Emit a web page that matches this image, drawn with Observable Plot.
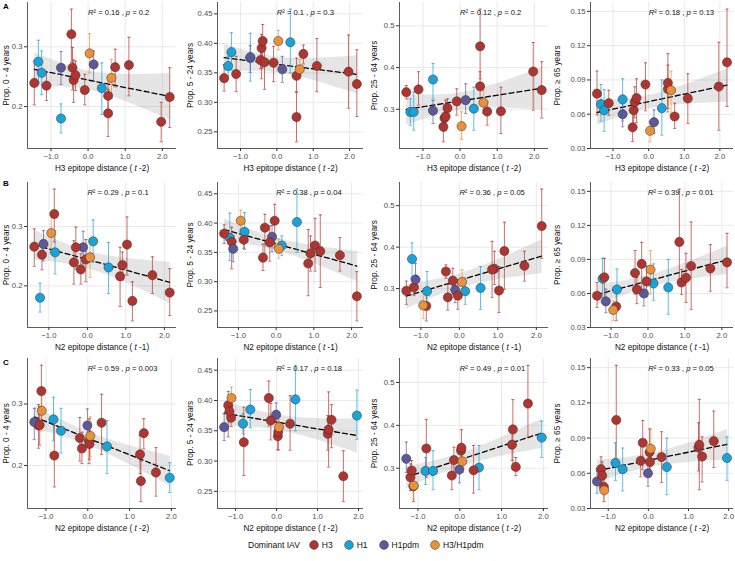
<!DOCTYPE html>
<html><head><meta charset="utf-8">
<script src="https://cdn.jsdelivr.net/npm/d3@7"></script>
<script src="https://cdn.jsdelivr.net/npm/@observablehq/plot@0.6"></script>
<style>
body{margin:0;background:#fff;}
#root{position:relative;width:735px;height:561px;font-family:"Liberation Sans",Arial,sans-serif;overflow:hidden;background:#fff;}
.panel{position:absolute;}
.rowlab{position:absolute;font-weight:bold;font-size:8px;color:#000;}
g[aria-label="x-axis tick label"] text, g[aria-label="y-axis tick label"] text{fill:#4d4d4d;font-size:7.7px;}
g[aria-label="x-axis label"] text, g[aria-label="y-axis label"] text{fill:#111;font-size:8.2px;}
g[aria-label="x-axis tick"] path, g[aria-label="y-axis tick"] path{stroke:#333;}
#legend{position:absolute;top:538px;left:248px;display:flex;align-items:center;font-size:8.5px;color:#111;height:14px;}
#legend svg{margin:0 3px 0 7px;}
</style></head>
<body><div id="root"></div>
<script>
// ---- data ----
const subtypes = ["H3", "H1", "H1pdm", "H3/H1pdm"];
const subtypeColors = ["#B0342F", "#1AA3D9", "#5C5899", "#E8913A"];
const seasonSubtype = ["H3","H1","H1","H3","H1","H1pdm","H3","H3","H3","H3","H3","H3/H1pdm","H1pdm","H1","H3","H3","H3/H1pdm","H3","H3","H3","H3"];

const xH3t2 = [-1.45,-1.34,-1.25,-1.12,-0.73,-0.73,-0.45,-0.42,-0.39,-0.34,-0.09,0.04,0.15,0.37,0.54,0.54,0.63,0.73,1.10,1.97,2.20];
const xN2t1 = [-0.35,0.15,-0.84,0.91,-1.23,-0.11,-0.86,-0.30,-0.04,-1.18,-0.17,-0.94,-1.14,0.55,1.69,2.14,0.07,-1.38,1.03,1.17,0.85];
const xN2t2 = [0.03,-0.82,-0.64,0.04,1.96,-0.01,-1.11,-1.18,-0.19,1.34,-0.14,-1.10,-1.28,0.46,1.25,1.63,0.06,-1.15,0.33,1.27,-0.80];

const p0_4   = [0.2395,0.275,0.2565,0.235,0.180,0.265,0.321,0.265,0.2445,0.2525,0.2277,0.289,0.2706,0.231,0.218,0.1887,0.248,0.266,0.2695,0.1746,0.216];
const p0_4Lo = [0.203,0.240,0.220,0.210,0.156,0.237,0.274,0.228,0.207,0.227,0.203,0.256,0.242,0.187,0.187,0.150,0.214,0.233,0.218,0.141,0.165];
const p0_4Hi = [0.276,0.311,0.293,0.257,0.2045,0.292,0.363,0.299,0.278,0.276,0.254,0.322,0.293,0.273,0.249,0.229,0.279,0.296,0.316,0.207,0.265];

const p5_24   = [0.341,0.3616,0.385,0.348,0.375,0.3765,0.3715,0.392,0.404,0.368,0.367,0.404,0.356,0.4018,0.345,0.275,0.356,0.382,0.3616,0.352,0.331];
const p5_24Lo = [0.319,0.345,0.355,0.318,0.336,0.351,0.357,0.340,0.358,0.322,0.335,0.389,0.334,0.350,0.318,0.233,0.340,0.365,0.318,0.290,0.276];
const p5_24Hi = [0.364,0.378,0.418,0.378,0.417,0.396,0.388,0.415,0.432,0.393,0.395,0.422,0.378,0.458,0.375,0.317,0.373,0.397,0.408,0.414,0.389];

const p25_64   = [0.341,0.2937,0.2937,0.3476,0.3714,0.2968,0.258,0.279,0.283,0.303,0.319,0.2595,0.322,0.3016,0.355,0.4508,0.316,0.2945,0.2952,0.3905,0.346];
const p25_64Lo = [0.325,0.262,0.250,0.310,0.325,0.266,0.222,0.248,0.250,0.283,0.286,0.228,0.290,0.250,0.318,0.373,0.290,0.262,0.242,0.298,0.279];
const p25_64Hi = [0.357,0.325,0.341,0.390,0.410,0.321,0.286,0.310,0.322,0.325,0.349,0.294,0.361,0.353,0.390,0.540,0.345,0.318,0.353,0.460,0.414];

const p65   = [0.078,0.0688,0.0635,0.0697,0.073,0.060,0.0485,0.0635,0.0706,0.0742,0.086,0.0455,0.053,0.0653,0.082,0.0874,0.081,0.058,0.0738,0.0842,0.1054];
const p65Lo = [0.0594,0.054,0.045,0.059,0.054,0.049,0.036,0.051,0.057,0.0526,0.063,0.0358,0.043,0.0417,0.062,0.065,0.0594,0.0476,0.052,0.046,0.0668];
const p65Hi = [0.0978,0.086,0.0815,0.081,0.091,0.071,0.061,0.074,0.084,0.091,0.105,0.0535,0.0638,0.090,0.103,0.113,0.0977,0.0697,0.0954,0.123,0.152];

const xTicks = [-1, 0, 1, 2];
const yTicks0_4 = [0.2, 0.3];
const yTicks5_24 = [0.25, 0.30, 0.35, 0.40, 0.45];
const yTicks25_64 = [0.3, 0.4, 0.5];
const yTicks65 = [0.03, 0.06, 0.09, 0.12, 0.15];

const yLabels = ["Prop. 0 - 4 years", "Prop. 5 - 24 years", "Prop. 25 - 64 years", "Prop. \u2265 65 years"];
const xLabelParts = [["H3 epitope distance ( ", "t", " -2)"], ["N2 epitope distance ( ", "t", " -1)"], ["N2 epitope distance ( ", "t", " -2)"]];
const rowLetters = ["A", "B", "C"];
const r2Labels = [["0.16","0.1","0.12","0.18"], ["0.29","0.38","0.36","0.39"], ["0.59","0.17","0.49","0.33"]];
const pLabels  = [["0.2","0.3","0.2","0.13"], ["0.1","0.04","0.05","0.01"], ["0.003","0.18","0.01","0.05"]];
const annotX = 0;

// ---- layout ----
const cols = [
  {left: 0,   width: 184, ml: 27, mr: 8, vals: p0_4,   lo: p0_4Lo,   hi: p0_4Hi,   ticks: yTicks0_4,   fmt: ".1f"},
  {left: 184, width: 184, ml: 33, mr: 5, vals: p5_24,  lo: p5_24Lo,  hi: p5_24Hi,  ticks: yTicks5_24,  fmt: ".2f"},
  {left: 368, width: 183, ml: 31, mr: 3, vals: p25_64, lo: p25_64Lo, hi: p25_64Hi, ticks: yTicks25_64, fmt: ".1f"},
  {left: 551, width: 184, ml: 39, mr: 2, vals: p65,    lo: p65Lo,    hi: p65Hi,    ticks: yTicks65,    fmt: ".2f"}
];
const rows = [
  {top: 0,   height: 173, mt: 2, mb: 25, xs: xH3t2},
  {top: 173, height: 179, mt: 9, mb: 25, xs: xN2t1},
  {top: 352, height: 181, mt: 6, mb: 25, xs: xN2t2}
];

const expand = ([a, b]) => { const d = (b - a) * 0.05; return [a - d, b + d]; };
const cap = {draw(ctx, size) { const w = Math.sqrt(size / Math.PI); ctx.moveTo(-w, 0); ctx.lineTo(w, 0); }};
const SVGNS = "http://www.w3.org/2000/svg";
function rich(el, parts, italic) {
  if (!el) return;
  while (el.firstChild) el.removeChild(el.firstChild);
  parts.forEach((s, i) => {
    const t = document.createElementNS(SVGNS, "tspan");
    t.textContent = s;
    if (italic.includes(i)) t.setAttribute("font-style", "italic");
    el.appendChild(t);
  });
}

const root = document.getElementById("root");
rows.forEach((row, ri) => {
  cols.forEach((col, ci) => {
    const data = seasonSubtype.map((t, i) => ({type: t, x: row.xs[i], y: col.vals[i], lo: col.lo[i], hi: col.hi[i]}));
    const xd = expand(d3.extent(row.xs));
    const yd = expand([d3.min(col.lo), d3.max(col.hi)]);
    const r2 = r2Labels[ri][ci], p = pLabels[ri][ci];
    const annText = `R\u00b2 = ${r2} , p = ${p}`;
    const svg = Plot.plot({
      width: col.width, height: row.height,
      marginLeft: col.ml, marginRight: col.mr, marginTop: row.mt, marginBottom: row.mb,
      style: {fontFamily: "'Liberation Sans', Arial, sans-serif", fontSize: "7.5px", background: "transparent"},
      x: {domain: xd, ticks: xTicks, tickSize: 3, tickPadding: 2, label: xLabelParts[ri].join(""), labelAnchor: "center", labelArrow: "none"},
      y: {domain: yd, ticks: col.ticks, tickFormat: d3.format(col.fmt), tickSize: 3, tickPadding: 2, label: yLabels[ci], labelAnchor: "center", labelArrow: "none"},
      color: {domain: subtypes, range: subtypeColors},
      marks: [
        Plot.gridX(xTicks, {stroke: "#e6e6e6", strokeOpacity: 1, strokeWidth: 0.9}),
        Plot.gridY(col.ticks, {stroke: "#e6e6e6", strokeOpacity: 1, strokeWidth: 0.9}),
        Plot.ruleX([xd[0]], {stroke: "#333", strokeWidth: 0.8}),
        Plot.ruleY([yd[0]], {stroke: "#333", strokeWidth: 0.8}),
        Plot.linearRegressionY(data, {x: "x", y: "y", stroke: "black", strokeWidth: 1.3, strokeDasharray: "5,3", fill: "#888", fillOpacity: 0.22, ci: 0.95}),
        Plot.ruleX(data, {x: "x", y1: "lo", y2: "hi", stroke: "type", strokeOpacity: 0.7, strokeWidth: 1}),
        Plot.dot(data, {x: "x", y: "lo", symbol: cap, r: 1.6, stroke: "type", strokeOpacity: 0.7, fill: "none", strokeWidth: 1}),
        Plot.dot(data, {x: "x", y: "hi", symbol: cap, r: 1.6, stroke: "type", strokeOpacity: 0.7, fill: "none", strokeWidth: 1}),
        Plot.dot(data, {x: "x", y: "y", r: 4.6, fill: "type", stroke: "#333", strokeWidth: 0.5}),
        Plot.text([{x: annotX, label: annText}], {x: "x", text: "label", frameAnchor: "top", dy: 10, textAnchor: "start", lineAnchor: "middle", fontSize: 7.6, fill: "#111"})
      ]
    });
    rich(svg.querySelector('g[aria-label="x-axis label"] text'), xLabelParts[ri], [1]);
    rich(svg.querySelector('g[aria-label="text"] text'), ["R", `\u00b2 = ${r2} , `, "p", ` = ${p}`], [0, 2]);
    const div = document.createElement("div");
    div.className = "panel";
    div.style.left = col.left + "px";
    div.style.top = row.top + "px";
    div.style.width = col.width + "px";
    div.appendChild(svg);
    root.appendChild(div);
  });
  const lab = document.createElement("div");
  lab.className = "rowlab";
  lab.textContent = rowLetters[ri];
  lab.style.left = "3px";
  lab.style.top = (row.top + (ri === 0 ? 2 : 6)) + "px";
  root.appendChild(lab);
});

// legend
const legend = document.createElement("div");
legend.id = "legend";
const title = document.createElement("span");
title.textContent = "Dominant IAV";
title.style.marginRight = "2px";
legend.appendChild(title);
subtypes.forEach((s, i) => {
  const sv = document.createElementNS(SVGNS, "svg");
  sv.setAttribute("width", 10); sv.setAttribute("height", 10);
  const c = document.createElementNS(SVGNS, "circle");
  c.setAttribute("cx", 5); c.setAttribute("cy", 5); c.setAttribute("r", 4.4);
  c.setAttribute("fill", subtypeColors[i]); c.setAttribute("stroke", "#333"); c.setAttribute("stroke-width", 0.5);
  sv.appendChild(c);
  legend.appendChild(sv);
  const t = document.createElement("span");
  t.textContent = s;
  t.style.marginRight = "4px";
  legend.appendChild(t);
});
root.appendChild(legend);
</script></body></html>
